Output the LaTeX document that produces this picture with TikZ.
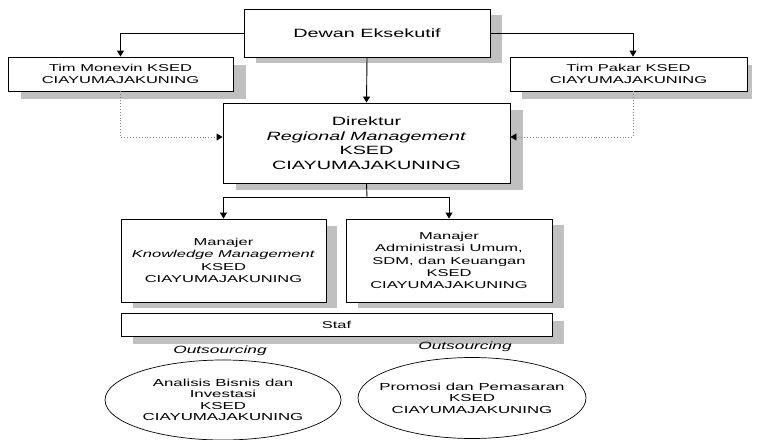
\documentclass[tikz,border=0pt]{standalone}
\usepackage{fontspec}
\setmainfont{Liberation Sans}[FakeStretch=1.65]
\usetikzlibrary{arrows.meta,calc,backgrounds}
\definecolor{shadowc}{HTML}{C0C0C0}
\definecolor{dotc}{HTML}{808080}
\newcommand\shadowof[3]{\fill[shadowc] ($(#1.north west)+(#2,#3)$) rectangle ($(#1.south east)+(#2,#3)$);}
\begin{document}
\begin{tikzpicture}[x=1pt,y=-1pt,
  box/.style={draw=black, line width=0.9pt, fill=white, align=center, inner sep=0pt},
  big/.style={font=\fontsize{12}{14.5}\selectfont},
  mid/.style={font=\fontsize{10}{12.3}\selectfont},
  conn/.style={draw=black, line width=0.9pt, -{Triangle[width=7pt,length=6pt]}},
  plain/.style={draw=black, line width=0.9pt},
  dotline/.style={draw=dotc, line width=0.9pt, dotted, -{Triangle[width=7pt,length=6pt,fill=black,color=black]}},
  ovaltext/.style={inner sep=0pt, align=center, font=\fontsize{10.2}{11.4}\selectfont},
  ovalline/.style={draw=black, line width=0.7pt},
  outs/.style={font=\fontsize{10.5}{12}\selectfont\itshape, inner sep=0pt}
]
\useasboundingbox (0,0) rectangle (757,439);

\node[box, big, minimum width=246pt, minimum height=48pt] (dewan) at (367,33) {Dewan Eksekutif};
\node[box, mid, minimum width=225pt, minimum height=34pt] (monevin) at (120.5,74) {Tim Monevin KSED\\CIAYUMAJAKUNING};
\node[box, mid, minimum width=237pt, minimum height=34pt] (pakar) at (628.5,74) {Tim Pakar KSED\\CIAYUMAJAKUNING};
\node[box, big, minimum width=287pt, minimum height=80pt] (direktur) at (366.5,143) {Direktur\\\textit{Regional Management}\\KSED\\CIAYUMAJAKUNING};
\node[box, mid, minimum width=205pt, minimum height=83pt] (know) at (223.5,260.5) {Manajer\\\textit{Knowledge Management}\\KSED\\CIAYUMAJAKUNING};
\node[box, mid, minimum width=206pt, minimum height=83pt] (admin) at (449,260.5) {Manajer\\Administrasi Umum,\\SDM, dan Keuangan\\KSED\\CIAYUMAJAKUNING};
\node[box, mid, minimum width=431pt, minimum height=23pt] (staf) at (336.5,324.5) {Staf};

\node[outs] (out1) at (220,351) {Outsourcing};
\node[outs] (out2) at (465,347) {Outsourcing};
\node[ovaltext] (ell1) at (223,400) {Analisis Bisnis dan\\Investasi\\KSED\\CIAYUMAJAKUNING};
\draw[ovalline] (ell1.center) ellipse [x radius=118, y radius=40];
\node[ovaltext] (ell2) at (472,398) {Promosi dan Pemasaran\\KSED\\CIAYUMAJAKUNING};
\draw[ovalline] (ell2.center) ellipse [x radius=114, y radius=40.5];

\begin{scope}[on background layer]
  \shadowof{dewan}{12}{6}
  \shadowof{monevin}{13}{8}
  \fill[shadowc] ($(pakar.north west)+(12,8)$) rectangle ($(pakar.south east)+(5,8)$);
  \shadowof{direktur}{13}{7}
  \fill[shadowc] ($(know.north west)+(12,7)$) rectangle ($(know.south east)+(11,6)$);
  \shadowof{admin}{12}{6}
  \shadowof{staf}{12}{8}
\end{scope}

\draw[conn] (dewan.west) -| (monevin.north);
\draw[conn] (dewan.east) -| ($(pakar.north)+(4.5,0)$);
\draw[conn] (dewan.south) -- (direktur.north);
\draw[dotline] (monevin.south) |- ($(direktur.west)+(0,-6)$);
\draw[dotline] ($(pakar.south)+(4.5,0)$) |- ($(direktur.east)+(0,-6)$);
\coordinate (split) at (367,197);
\draw[plain] (direktur.south) -- (split);
\draw[conn] (split) -| (know.north);
\draw[conn] (split) -| (admin.north);
\end{tikzpicture}
\end{document}
